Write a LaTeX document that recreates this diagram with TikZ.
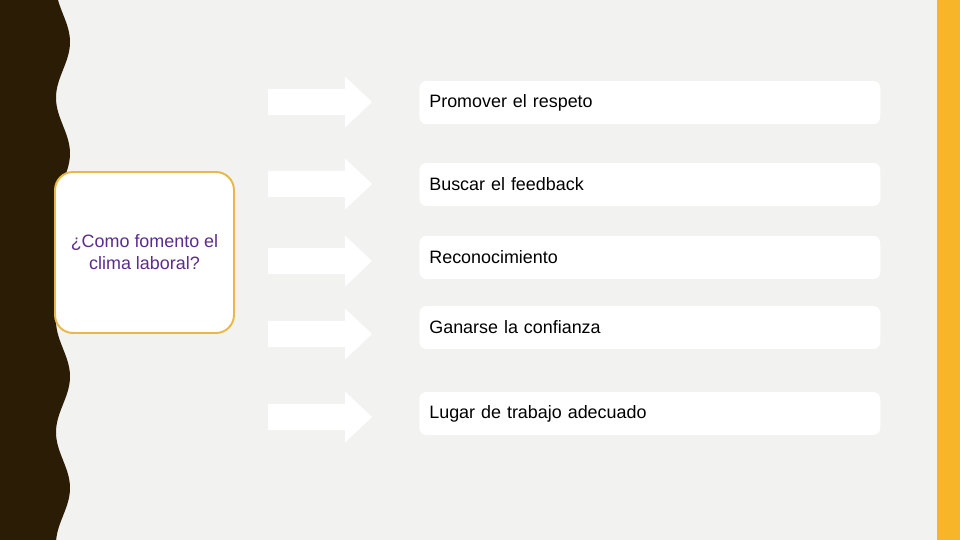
\documentclass[tikz,border=0pt]{standalone}
\usepackage{fontspec}
\setmainfont{Liberation Sans}
\usepackage{xcolor}
\usetikzlibrary{positioning,calc}

\definecolor{bgpaper}{HTML}{F2F2F0}
\definecolor{darkband}{HTML}{2A1C05}
\definecolor{goldband}{HTML}{F7B52A}
\definecolor{goldline}{HTML}{E8B84C}
\definecolor{askpurple}{HTML}{5B2C8F}

\tikzset{
    itembox/.style={fill=white, rounded corners=0.14cm, minimum height=0.86cm,
        text width=8.82cm, inner xsep=0.2cm, inner ysep=0pt, align=left,
        anchor=west, font=\fontsize{10.2}{12.5}\selectfont},
    askbox/.style={draw=goldline, line width=1.1pt, fill=white, rounded corners=0.36cm,
        minimum width=3.58cm, minimum height=3.22cm, align=center,
        text=askpurple, font=\fontsize{10.2}{12.5}\selectfont},
    blockarrow/.pic={
        \fill[white] (0,-13) -- (77,-13) -- (77,-25.5) -- (104,0) -- (77,25.5) -- (77,13) -- (0,13) -- cycle;
    }
}

\begin{document}
\begin{tikzpicture}[x=0.02cm, y=-0.02cm]
    \useasboundingbox (0,0) rectangle (960,540);
    \fill[bgpaper] (0,0) rectangle (960,540);
    \fill[goldband] (937,0) rectangle (960,540);
    % wavy band on the left
    \fill[darkband] (0,0) -- plot[domain=0:540, samples=200] ({63+7*cos(((\x-42)/111.5)*360)}, \x) -- (0,540) -- cycle;

    \node [askbox] (ask) at (144.5,252.5) {¿Como fomento el\\clima laboral?};

    \pic at (268,102) {blockarrow};
    \pic at (268,184) {blockarrow};
    \pic at (268,261) {blockarrow};
    \pic at (268,334) {blockarrow};
    \pic at (268,417) {blockarrow};

    \node [itembox] (respeto) at (419,102.5) {Promover el respeto};
    \node [itembox] (feedback) at (419,184.5) {Buscar el feedback};
    \node [itembox] (reconoc) at (419,257.5) {Reconocimiento};
    \node [itembox] (confianza) at (419,327.5) {Ganarse la confianza};
    \node [itembox] (lugar) at (419,413.5) {Lugar de trabajo adecuado};
\end{tikzpicture}
\end{document}
